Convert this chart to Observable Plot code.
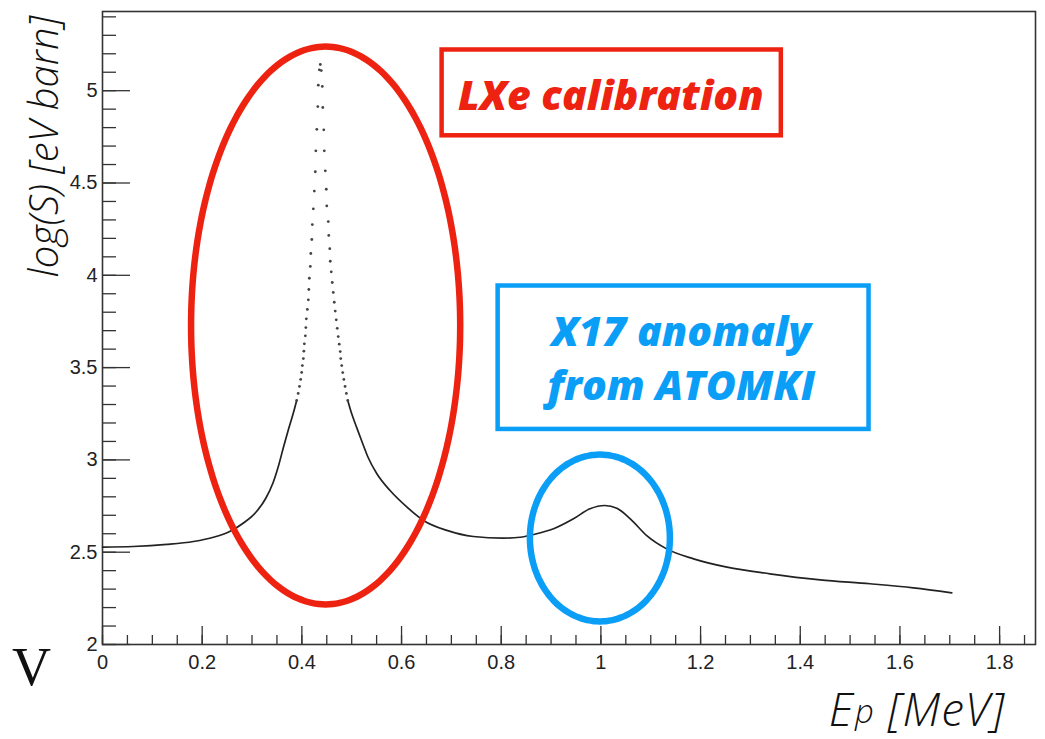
<!DOCTYPE html>
<html>
<head>
<meta charset="utf-8">
<script src="https://cdn.jsdelivr.net/npm/d3@7"></script>
<script src="https://cdn.jsdelivr.net/npm/@observablehq/plot@0.6"></script>
<style>
  html, body { margin: 0; padding: 0; background: #fff; }
</style>
</head>
<body>
<div id="chart"></div>
<script>
// ---- Data (E_p in MeV, log(S) in eV barn) ----
// smooth left branch (dense part of the curve)
const leftE = [0, 0.0616, 0.1292, 0.1825, 0.2227, 0.2562, 0.2843, 0.3073, 0.3274, 0.3424, 0.3545, 0.3635, 0.3725, 0.3826, 0.3896];
const leftS = [2.528, 2.531, 2.542, 2.558, 2.581, 2.614, 2.661, 2.715, 2.791, 2.878, 2.981, 3.073, 3.159, 3.251, 3.322];
// individually visible samples of the narrow resonance (drawn as dots)
const peakE = [0.3896, 0.3926, 0.3952, 0.3976, 0.3996,
               0.401, 0.403, 0.404, 0.405, 0.407, 0.408, 0.409, 0.411, 0.413, 0.414, 0.415, 0.417, 0.418, 0.420, 0.421, 0.423, 0.425, 0.427, 0.428, 0.430, 0.432, 0.433, 0.435, 0.437,
               0.439, 0.441, 0.442, 0.444, 0.445, 0.447, 0.449, 0.450, 0.453, 0.454, 0.456, 0.457, 0.459, 0.461, 0.463, 0.465, 0.467, 0.469, 0.471, 0.473, 0.475, 0.477, 0.478,
               0.4800, 0.4820, 0.4843, 0.4867, 0.4893, 0.4921];
const peakS = [3.322, 3.360, 3.398, 3.436, 3.474,
               3.511, 3.549, 3.589, 3.629, 3.672, 3.717, 3.764, 3.815, 3.867, 3.923, 3.984, 4.048, 4.118, 4.194, 4.275, 4.360, 4.456, 4.561, 4.674, 4.791, 4.914, 5.030, 5.113, 5.142,
               5.109, 5.023, 4.909, 4.788, 4.674, 4.566, 4.466, 4.376, 4.291, 4.216, 4.144, 4.076, 4.019, 3.961, 3.907, 3.854, 3.806, 3.759, 3.713, 3.668, 3.627, 3.587, 3.549,
               3.511, 3.473, 3.436, 3.398, 3.360, 3.322];
// smooth right branch including the broad X17 bump
const rightE = [0.4921, 0.4999, 0.5099, 0.5220, 0.5330, 0.5505, 0.577, 0.611, 0.644, 0.691, 0.744, 0.804, 0.838, 0.865, 0.905, 0.945, 0.978, 1.008, 1.032, 1.059, 1.092, 1.132, 1.186, 1.253, 1.339, 1.440, 1.540, 1.627, 1.704];
const rightS = [3.322, 3.251, 3.176, 3.089, 3.013, 2.925, 2.834, 2.744, 2.672, 2.618, 2.585, 2.576, 2.581, 2.596, 2.627, 2.681, 2.735, 2.753, 2.738, 2.681, 2.590, 2.518, 2.464, 2.419, 2.383, 2.350, 2.329, 2.307, 2.280];

// ---- Axis ticks ----
const xMajor = [0, 0.2, 0.4, 0.6, 0.8, 1, 1.2, 1.4, 1.6, 1.8];
const yMajor = [2, 2.5, 3, 3.5, 4, 4.5, 5];
const xMinor = d3.range(0, 38).map(i => +(i * 0.05).toFixed(2));
const yMinor = d3.range(0, 35).map(i => +(2 + i * 0.1).toFixed(1));

// ---- Annotations (data coordinates) ----
const annoLabels = ["LXe calibration", "X17 anomaly\nfrom ATOMKI"];
const annoColors = ["#ee2211", "#0a9ef6"];
const annoTextE = [1.020, 1.161];
const annoTextS = [4.988, 3.563];
const boxE1 = [0.6814, 0.7938], boxE2 = [1.362, 1.538];
const boxS1 = [4.7557, 3.165], boxS2 = [5.2205, 3.942];
const ellCE = [0.4477, 0.998], ellCS = [3.728, 2.577];
const ellRE = [0.270, 0.1404], ellRS = [1.511, 0.452];

const left = leftE.map((e, i) => ({E: e, S: leftS[i]}));
const right = rightE.map((e, i) => ({E: e, S: rightS[i]}));
const peak = peakE.map((e, i) => ({E: e, S: peakS[i]}));
const boxes = annoLabels.map((l, i) => ({x1: boxE1[i], x2: boxE2[i], y1: boxS1[i], y2: boxS2[i], c: annoColors[i]}));
const labels = annoLabels.map((l, i) => ({t: l, x: annoTextE[i], y: annoTextS[i], c: annoColors[i]}));
const ellipses = annoLabels.flatMap((l, i) =>
  d3.range(0, 361, 3).map(a => ({
    k: i, c: annoColors[i],
    x: ellCE[i] + ellRE[i] * Math.cos(a * Math.PI / 180),
    y: ellCS[i] + ellRS[i] * Math.sin(a * Math.PI / 180)
  })));

const W = 1045, H = 739;
const mL = 102, mR = 10, mT = 11, mB = 95;
const innerW = W - mL - mR, innerH = H - mT - mB;
const axisColor = "#333";
const tickFont = "'Liberation Sans', Arial, sans-serif";
const titleFont = "'Open Sans', Lato, sans-serif";

const chart = Plot.plot({
  width: W, height: H,
  marginLeft: mL, marginRight: mR, marginTop: mT, marginBottom: mB,
  style: {background: "#fff", fontFamily: tickFont, overflow: "visible"},
  x: {domain: [0, 1.872], label: null},
  y: {domain: [2, 5.429], label: null},
  marks: [
    // inward ticks
    Plot.ruleX(xMinor, {x: d => d, insetTop: innerH - 9, stroke: axisColor, strokeWidth: 1.3}),
    Plot.ruleX(xMajor, {x: d => d, insetTop: innerH - 18, stroke: axisColor, strokeWidth: 1.3}),
    Plot.ruleY(yMinor, {y: d => d, insetRight: innerW - 14, stroke: axisColor, strokeWidth: 1.3}),
    Plot.ruleY(yMajor, {y: d => d, insetRight: innerW - 28, stroke: axisColor, strokeWidth: 1.3}),
    Plot.frame({stroke: axisColor, strokeWidth: 1.6}),
    Plot.axisX(xMajor, {tickSize: 0, tickPadding: 10, fontSize: 20, fill: "#222", tickFormat: d => String(d), label: null}),
    Plot.axisY(yMajor, {tickSize: 0, tickPadding: 5, fontSize: 20, fill: "#222", tickFormat: d => String(d), label: null}),
    // curve
    Plot.line(left, {x: "E", y: "S", stroke: "#222", strokeWidth: 1.7, curve: "monotone-x"}),
    Plot.line(right, {x: "E", y: "S", stroke: "#222", strokeWidth: 1.7, curve: "monotone-x"}),
    Plot.dot(peak, {x: "E", y: "S", r: 1.4, fill: "#444", stroke: null}),
    // annotations
    Plot.line(ellipses, {x: "x", y: "y", z: "k", stroke: "c", strokeWidth: 6.5, strokeLinecap: "round", strokeLinejoin: "round", curve: "catmull-rom"}),
    Plot.rect(boxes, {x1: "x1", x2: "x2", y1: "y1", y2: "y2", fill: "none", stroke: "c", strokeWidth: 4.5}),
    Plot.text(labels, {x: "x", y: "y", text: "t", fill: "c", fontSize: 41, fontWeight: 800, fontStyle: "italic", fontFamily: titleFont, lineHeight: 1.32, lineAnchor: "middle", textAnchor: "middle"}),
    // axis titles
    Plot.text(["log(S) [eV barn]"], {text: d => d, frameAnchor: "top-left", dx: -57, dy: 135, rotate: -90, fontSize: 40, fontWeight: 300, fontStyle: "italic", fontFamily: titleFont, fill: "#111", lineAnchor: "middle", textAnchor: "middle"}),
    Plot.text(["Ep [MeV]"], {text: d => d, frameAnchor: "bottom-right", dx: -30, dy: 67, fontSize: 46, fontWeight: 300, fontStyle: "italic", fontFamily: titleFont, fill: "#111", lineAnchor: "middle", textAnchor: "end"}),
    Plot.text(["V"], {text: d => d, frameAnchor: "bottom-left", dx: -71, dy: 23, fontSize: 54, fontFamily: "'Liberation Serif', 'DejaVu Serif', serif", fill: "#111", lineAnchor: "middle", textAnchor: "middle"})
  ]
});

// smaller p after E in the x title
d3.select(chart).selectAll("text").filter(function () { return this.textContent === "Ep [MeV]"; })
  .each(function () {
    const t = d3.select(this);
    t.text(null).attr("letter-spacing", "1");
    t.append("tspan").text("E");
    t.append("tspan").attr("font-size", "33px").attr("dy", "-3").attr("dx", "1").text("p");
    t.append("tspan").attr("dy", "3").text(" [MeV]");
  });

document.getElementById("chart").appendChild(chart);
</script>
</body>
</html>
